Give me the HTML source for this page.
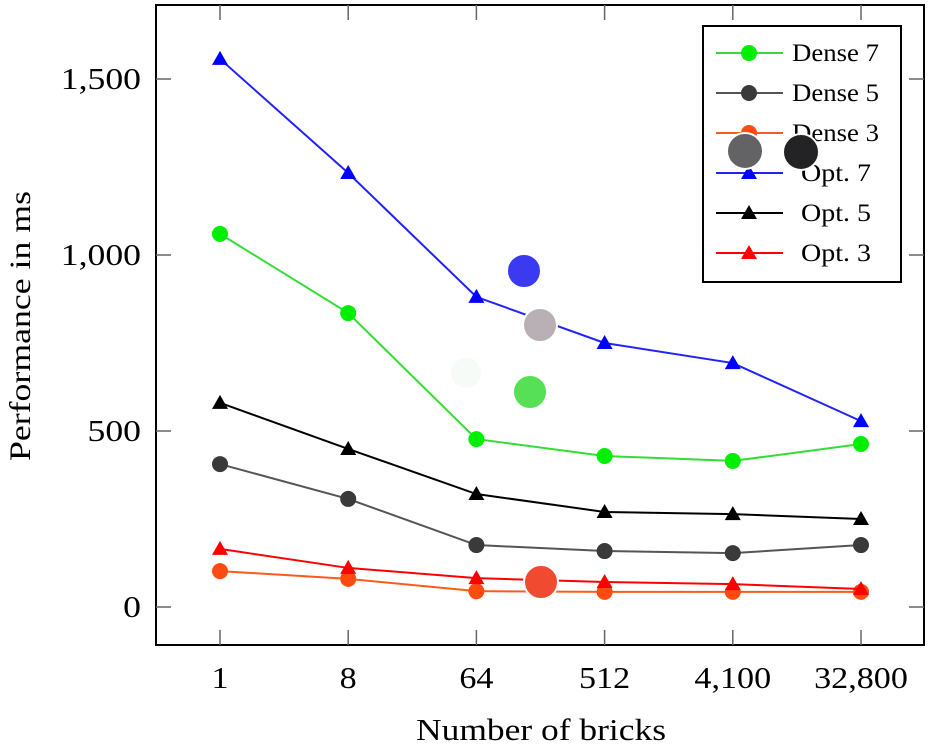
<!DOCTYPE html>
<html><head><meta charset="utf-8"><style>
html,body{margin:0;padding:0;background:#fff;}
svg{display:block;font-family:"Liberation Serif",serif;}
</style></head><body>
<svg id="chart" width="931" height="748" viewBox="0 0 931 748">
<rect x="156" y="5" width="768" height="640" fill="#fff" stroke="#000" stroke-width="2"/>
<g id="ticks"></g>
<g id="series"></g>
<g>
<circle cx="524" cy="271" r="17" fill="#3a3af0" stroke="#fff" stroke-width="2"/>
<circle cx="540" cy="325" r="17" fill="#b8b0b4" stroke="#fff" stroke-width="2"/>
<circle cx="530" cy="392" r="17" fill="#55e055" stroke="#fff" stroke-width="2"/>
<circle cx="466" cy="373" r="15" fill="#f6fbf8"/>
<circle cx="541" cy="582" r="17" fill="#f04a30" stroke="#fff" stroke-width="2"/>
</g>
<g id="legend">
<rect x="703" y="26" width="198" height="256" fill="#fff" stroke="#000" stroke-width="2"/>
</g>
<g>
<circle cx="745" cy="151" r="18" fill="#636365" stroke="#fff" stroke-width="2"/>
<circle cx="801" cy="152" r="18" fill="#232325" stroke="#fff" stroke-width="2"/>
</g>
<text x="30" y="326" font-size="30" text-anchor="middle" textLength="270" lengthAdjust="spacingAndGlyphs" transform="rotate(-90 30 326)">Performance in ms</text>
<text x="541" y="740" font-size="31" text-anchor="middle" textLength="250" lengthAdjust="spacingAndGlyphs">Number of bricks</text>
</svg>
<script>
const categories = ["1","8","64","512","4,100","32,800"];
const yTicks = [0,500,1000,1500];
const yTickLabels = ["0","500","1,000","1,500"];
const seriesNames = ["Dense 7","Dense 5","Dense 3","Opt. 7","Opt. 5","Opt. 3"];
const dense7 = [1060,835,477,429,415,463];
const dense5 = [406,307,176,159,153,176];
const dense3 = [102,80,45,43,43,43];
const opt7 = [1557,1233,881,750,693,528];
const opt5 = [580,449,321,270,264,250];
const opt3 = [165,111,82,71,65,51];

const NS="http://www.w3.org/2000/svg";
function xPos(i){return 220+i*128.2;}
function yPos(v){return 607-v*0.352;}
function mk(tag,attrs,parent){const e=document.createElementNS(NS,tag);for(const k in attrs)e.setAttribute(k,attrs[k]);parent.appendChild(e);return e;}
const ticks=document.getElementById('ticks');
categories.forEach((c,i)=>{
  const x=xPos(i);
  let t=mk('line',{x1:x,x2:x,y1:645,y2:630,stroke:'#666','stroke-width':1.5},ticks);
  
  
  t=mk('line',{x1:x,x2:x,y1:5,y2:20,stroke:'#666','stroke-width':1.5},ticks);
  
  
  const l=mk('text',{x:x,y:688,'font-size':31,'text-anchor':'middle',transform:`translate(${x},0) scale(1.1,1) translate(${-x},0)`},ticks);l.textContent=c;
  
  
});
yTicks.forEach((v,i)=>{
  const y=yPos(v);
  let t=mk('line',{x1:156,x2:171,y1:y,y2:y,stroke:'#666','stroke-width':1.5},ticks);
  
  
  t=mk('line',{x1:909,x2:924,y1:y,y2:y,stroke:'#666','stroke-width':1.5},ticks);
  
  
  const l=mk('text',{x:141,y:y+10,'font-size':31,'text-anchor':'end',transform:`translate(141,0) scale(1.15,1) translate(-141,0)`},ticks);l.textContent=yTickLabels[i];
  
  
});
const defs=[
 {d:dense7,c:'#00ee00',m:'circle',mc:'#00ee00',lc:'#33dd33'},
 {d:dense5,c:'#555',m:'circle',mc:'#3a3a3a',lc:'#555'},
 {d:dense3,c:'#ff5a1a',m:'circle',mc:'#ff4a10',lc:'#ff5a1a'},
 {d:opt7,c:'#0000ff',m:'tri',mc:'#0000ff',lc:'#2222ff'},
 {d:opt5,c:'#000',m:'tri',mc:'#000',lc:'#000'},
 {d:opt3,c:'#ff0000',m:'tri',mc:'#ff0000',lc:'#ff0000'}
];
function marker(type,x,y,col,g){
  if(type==='circle') return mk('circle',{cx:x,cy:y,r:8,fill:col},g);
  return mk('polygon',{points:`${x},${y-8} ${x-8},${y+6} ${x+8},${y+6}`,fill:col},g);
}
const sg=document.getElementById('series');
const order=[2,5,1,4,0,3];
order.forEach(si=>{
  const s=defs[si];
  const g=mk('g',{},sg);
  
  
  const pts=s.d.map((v,i)=>xPos(i)+','+yPos(v)).join(' ');
  const pl=mk('polyline',{points:pts,fill:'none',stroke:s.lc,'stroke-width':2},g);
  
  
  s.d.forEach((v,i)=>{const m=marker(s.m,xPos(i),yPos(v),s.mc,g);
    
    });
});
const lg=document.getElementById('legend');
seriesNames.forEach((n,i)=>{
  const s=defs[i];const y=53+i*40;
  const g=mk('g',{},lg);
  
  
  mk('line',{x1:716,x2:783,y1:y,y2:y,stroke:s.lc,'stroke-width':2},g);
  marker(s.m,749,y,s.mc,g);
  const t=mk('text',{x:i<3?792:801,y:y+8,'font-size':25,textLength:i<3?87:70,lengthAdjust:'spacingAndGlyphs'},g);t.textContent=n;
});
</script>
</body></html>
